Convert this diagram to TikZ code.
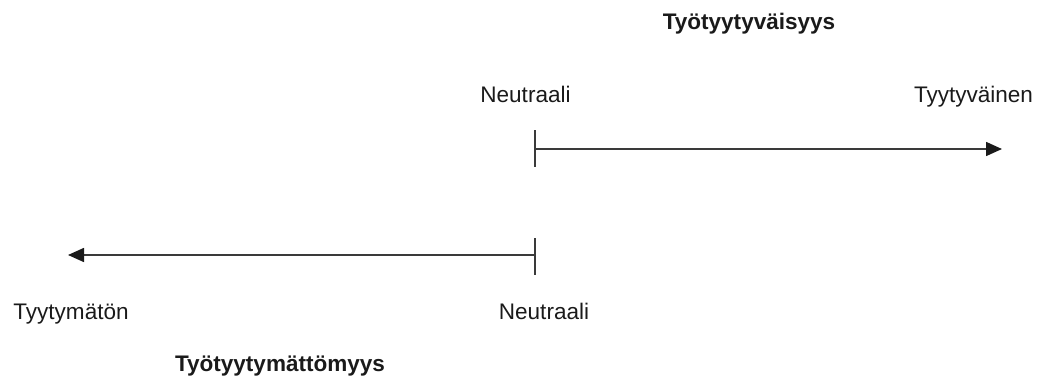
\documentclass[tikz,border=0pt]{standalone}
\usepackage{fontspec}
\setmainfont{Liberation Sans}
\usetikzlibrary{arrows.meta}
\definecolor{ink}{HTML}{1A1A1A}
\definecolor{linec}{HTML}{3A3A3A}
\tikzset{
  lbl/.style={anchor=base, inner sep=0pt, text=ink, font=\fontsize{16.9}{20}\selectfont},
  ttl/.style={lbl, font=\fontsize{16.9}{20}\selectfont\bfseries},
  axis/.style={draw=linec, line width=1.2pt, -{Triangle[length=12pt,width=10.5pt,color=ink]}},
  tick/.style={draw=linec, line width=1.2pt}
}
\begin{document}
\begin{tikzpicture}[x=0.75pt,y=-0.75pt]
\useasboundingbox (0,0) rectangle (1041,378);
% top
\node[ttl] (title1) at (749,30) {Työtyytyväisyys};
\node[lbl] (neu1) at (525.5,103) {Neutraali};
\node[lbl] (tyy) at (973.5,103) {Tyytyväinen};
\coordinate (s1) at (535,149);
\coordinate (s1a) at (535,130);
\coordinate (s1b) at (535,167);
\coordinate (e1) at (1002,149);
\draw[tick] (s1a) -- (s1b);
\draw[axis] (s1) -- (e1);
% bottom
\coordinate (s2) at (535,255);
\coordinate (s2a) at (535,238);
\coordinate (s2b) at (535,275);
\coordinate (e2) at (68,255);
\draw[tick] (s2a) -- (s2b);
\draw[axis] (s2) -- (e2);
\node[lbl] (tym) at (71,319) {Tyytymätön};
\node[lbl] (neu2) at (544,319) {Neutraali};
\node[ttl] (title2) at (280,371) {Työtyytymättömyys};
\end{tikzpicture}
\end{document}
